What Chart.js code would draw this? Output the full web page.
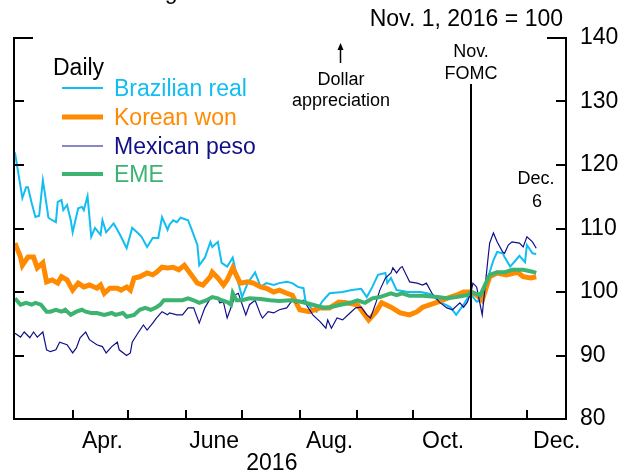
<!DOCTYPE html>
<html>
<head>
<meta charset="utf-8">
<script src="https://cdn.jsdelivr.net/npm/chart.js@4.4.1/dist/chart.umd.min.js"></script>
<style>
  html, body { margin: 0; padding: 0; background: #fff; }
  #wrap { width: 632px; height: 474px; }
</style>
</head>
<body>
<div id="wrap"><canvas id="fx" width="632" height="474"></canvas></div>
<script>
// ================= DATA =================
// x = day of year 2016 (Mar. 1 = 60, Nov. 1 = 305), y = index, Nov. 1, 2016 = 100
const brlDays = [60,64,66,67,69,71,73,75,76,78,80,82,83,85,86,88,90,91,94,96,97,99,101,103,106,107,109,113,115,117,120,123,126,128,131,134,137,139,142,143,145,147,149,153,155,158,159,162,165,166,169,171,174,177,180,182,185,189,192,195,199,202,206,209,212,215,216,219,222,225,229,236,241,246,249,252,255,259,260,262,265,271,278,283,288,294,297,301,305,306,308,311,315,317,319,322,323,326,329,331,334,335,338,340];
const brlVals = [122.0,114.8,116.5,116.5,114.0,111.8,112.0,117.6,115.7,111.7,111.3,111.0,114.2,114.5,112.9,113.7,111.3,109.4,113.2,113.4,112.9,115.1,108.7,110.1,109.0,111.3,109.4,110.8,109.8,108.7,106.9,110.1,109.3,108.7,107.1,108.5,108.5,111.8,109.8,110.6,111.3,111.0,111.7,111.3,109.8,107.4,104.2,105.4,107.9,107.1,107.9,104.6,104.0,105.4,101.4,99.2,101.4,103.1,100.8,101.4,101.1,101.4,101.6,101.4,100.8,100.6,98.7,97.5,96.9,98.5,99.8,100.0,100.3,100.5,99.2,100.8,102.7,103.0,101.4,102.2,100.3,100.0,100.0,99.7,98.5,97.6,96.4,98.0,100.0,99.2,98.5,98.7,103.1,105.0,106.3,106.1,105.5,104.0,105.0,105.7,104.7,107.4,106.1,106.0];

const krwDays = [60,63,64,67,70,72,75,77,80,83,85,88,91,94,97,100,104,106,108,111,115,117,120,122,124,127,131,134,136,139,142,145,148,151,154,158,161,165,166,169,172,174,177,181,185,188,192,195,199,202,206,209,213,218,224,229,234,238,244,250,254,257,262,267,272,276,279,287,292,297,301,305,308,311,315,319,324,330,333,337,340];
const krwVals = [107.7,105.5,104.2,105.5,105.5,103.8,104.6,101.6,101.9,101.4,102.4,101.9,100.3,101.4,100.8,101.1,100.6,101.1,99.8,100.6,100.6,100.3,100.8,100.3,102.2,102.4,103.0,102.7,103.1,103.9,103.8,103.9,103.5,104.2,103.0,101.4,101.1,102.4,103.1,102.2,101.1,101.9,103.8,101.4,101.6,101.4,100.8,100.6,100.0,100.3,99.8,99.5,97.2,96.9,97.5,97.5,98.4,98.3,98.0,95.6,96.9,98.3,97.6,96.7,96.4,96.9,97.6,98.4,99.0,99.5,100.0,100.0,99.5,98.7,102.4,103.0,102.7,103.1,102.4,102.2,102.4];

const mxnDays = [60,63,65,68,70,72,75,77,79,82,84,88,91,93,95,98,100,104,107,109,112,115,116,120,122,123,126,129,131,134,136,139,142,143,147,150,153,156,159,162,165,169,170,172,174,177,178,180,184,186,189,192,193,196,199,202,206,209,211,215,220,224,227,228,230,233,236,240,243,246,249,251,254,256,259,262,263,265,267,268,271,272,276,279,281,284,288,292,295,299,301,303,305,306,308,311,314,315,317,319,322,323,325,327,331,333,335,338,340];
const mxnVals = [93.5,92.9,93.7,92.8,93.7,92.9,93.7,90.9,90.6,90.9,92.1,91.7,90.4,91.2,92.8,93.7,92.5,91.7,91.4,90.4,91.4,92.1,90.9,90.0,90.4,92.1,93.5,94.8,94.0,95.1,95.9,96.9,96.4,96.7,96.4,96.4,97.5,97.5,95.1,97.5,99.0,99.0,98.3,98.4,95.9,98.3,99.5,99.8,96.4,98.0,98.7,96.4,95.9,96.9,96.7,97.2,97.5,98.7,98.3,98.7,96.4,95.3,94.3,95.6,94.3,95.9,95.6,96.7,97.5,97.6,96.4,95.9,98.4,100.3,102.2,103.0,103.8,103.0,103.8,104.0,102.2,101.6,101.4,101.1,101.4,99.8,98.4,97.5,97.2,98.3,97.6,98.4,100.0,101.4,100.8,96.4,105.0,107.7,109.3,107.9,106.3,106.1,107.4,107.9,107.7,107.1,108.7,107.9,106.9];

const emeDays = [60,63,66,69,71,74,77,79,82,85,87,90,93,96,98,101,104,108,112,114,118,120,124,127,130,133,136,138,140,145,150,153,156,159,163,166,169,171,174,176,177,179,182,186,192,197,202,208,213,220,226,229,235,240,244,248,252,256,262,265,268,272,279,287,292,297,303,305,310,312,315,319,323,327,333,338,340];
const emeVals = [99.0,98.0,98.3,98.0,98.3,98.0,96.9,96.9,97.2,96.9,97.2,96.4,96.9,97.2,96.9,96.7,96.7,96.4,96.7,96.4,96.7,96.1,96.4,97.2,97.5,97.2,97.6,98.0,98.7,98.7,98.7,99.0,98.7,98.3,98.7,99.2,99.0,98.7,98.4,98.0,99.8,98.7,98.7,99.0,98.9,98.7,98.6,98.7,98.5,98.0,97.5,97.6,98.0,98.3,98.7,98.3,99.0,99.2,99.8,99.5,99.8,99.4,99.4,99.2,99.0,99.2,99.5,100.0,99.5,100.8,102.7,103.1,103.1,103.5,103.5,103.2,103.0];

const seriesNames = ["Brazilian real", "Korean won", "Mexican peso", "EME"];
const yTicks = [80, 90, 100, 110, 120, 130, 140];
const monthStarts = [91, 121, 152, 182, 213, 244, 274, 305, 335];
const monthLabels = ["Apr.", "June", "Aug.", "Oct.", "Dec."];
const monthLabelDays = [107, 167, 229, 290, 351];
const yearLabel = "2016";
const yearLabelDay = 198;
const fomcDay = 305;

// ================= STYLE =================
const FONT = "'Liberation Sans', Arial, Helvetica, sans-serif";
const colors = ["#12bdf2", "#ff8a00", "#10108a", "#3cb371"];
const widths = [2, 5, 1.2, 4];

function pts(days, vals) {
  return days.map((d, i) => ({ x: d, y: vals[i] }));
}

const seriesData = [pts(brlDays, brlVals), pts(krwDays, krwVals), pts(mxnDays, mxnVals), pts(emeDays, emeVals)];
// EME on top, real at the bottom
const drawOrder = [3, 2, 1, 0];

// ================= FRAME, LABELS, LEGEND =================
const decorations = {
  id: 'decorations',
  afterDatasetsDraw(chart) {
    const { ctx, chartArea: a, scales: { x, y } } = chart;
    ctx.save();
    ctx.strokeStyle = '#000';
    ctx.lineWidth = 2;
    ctx.lineCap = 'butt';

    // open frame with short caps at the top
    ctx.beginPath();
    ctx.moveTo(a.left + 19, a.top);
    ctx.lineTo(a.left, a.top);
    ctx.lineTo(a.left, a.bottom);
    ctx.lineTo(a.right, a.bottom);
    ctx.lineTo(a.right, a.top);
    ctx.lineTo(a.right - 19, a.top);
    // inward ticks
    yTicks.slice(1, -1).forEach(v => {
      const py = Math.round(y.getPixelForValue(v));
      ctx.moveTo(a.left, py); ctx.lineTo(a.left + 10, py);
      ctx.moveTo(a.right, py); ctx.lineTo(a.right - 10, py);
    });
    monthStarts.forEach(d => {
      const px = Math.round(x.getPixelForValue(d));
      ctx.moveTo(px, a.bottom); ctx.lineTo(px, a.bottom - 9);
    });
    ctx.stroke();

    // FOMC marker
    const fx = Math.round(x.getPixelForValue(fomcDay));
    ctx.beginPath();
    ctx.moveTo(fx, 84);
    ctx.lineTo(fx, a.bottom);
    ctx.stroke();

    ctx.fillStyle = '#000';
    ctx.textBaseline = 'alphabetic';

    // month labels
    ctx.font = '23px ' + FONT;
    ctx.textAlign = 'center';
    monthLabels.forEach((m, i) => {
      ctx.fillText(m, x.getPixelForValue(monthLabelDays[i]), 448);
    });
    ctx.fillText(yearLabel, x.getPixelForValue(yearLabelDay), 470);

    // headers
    ctx.textAlign = 'left';
    ctx.fillText('Exchange rates', 88, -1);
    ctx.textAlign = 'right';
    ctx.fillText('Nov. 1, 2016 = 100', 563, 26);

    // legend
    ctx.textAlign = 'left';
    ctx.fillText('Daily', 53, 75);
    const rows = [88, 117, 146, 174];
    seriesNames.forEach((name, i) => {
      ctx.strokeStyle = colors[i];
      ctx.lineWidth = widths[i];
      ctx.beginPath();
      ctx.moveTo(62, rows[i]);
      ctx.lineTo(103, rows[i]);
      ctx.stroke();
      ctx.fillStyle = colors[i];
      ctx.fillText(name, 114, rows[i] + 8);
    });

    // notes
    ctx.fillStyle = '#000';
    ctx.strokeStyle = '#000';
    ctx.font = '18px ' + FONT;
    ctx.textAlign = 'center';
    ctx.fillText('Dollar', 341, 85);
    ctx.fillText('appreciation', 341, 106);
    ctx.fillText('Nov.', fx, 57);
    ctx.fillText('FOMC', fx, 79);
    ctx.fillText('Dec.', 536, 184);
    ctx.fillText('6', 537, 207);

    // arrow
    ctx.lineWidth = 1.5;
    ctx.beginPath();
    ctx.moveTo(340.5, 63);
    ctx.lineTo(340.5, 48);
    ctx.stroke();
    ctx.beginPath();
    ctx.moveTo(340.5, 43);
    ctx.lineTo(337.5, 50);
    ctx.lineTo(343.5, 50);
    ctx.closePath();
    ctx.fill();

    ctx.restore();
  }
};

// ================= CHART =================
const datasets = seriesNames.map((name, i) => ({
  label: name,
  data: seriesData[i],
  borderColor: colors[i],
  borderWidth: widths[i],
  pointRadius: 0,
  tension: 0,
  fill: false,
  order: drawOrder[i]
}));

new Chart(document.getElementById('fx').getContext('2d'), {
  type: 'line',
  data: { datasets },
  options: {
    responsive: false,
    animation: false,
    devicePixelRatio: 1,
    layout: { padding: { left: 14, top: 38, bottom: 55, right: 0 } },
    plugins: { legend: { display: false }, tooltip: { enabled: false } },
    scales: {
      x: {
        type: 'linear',
        min: 59.5,
        max: 356,
        display: false
      },
      y: {
        position: 'right',
        min: 80,
        max: 140,
        grid: { display: false, drawTicks: false },
        border: { display: false },
        ticks: {
          stepSize: 10,
          padding: 14,
          color: '#000',
          font: { family: FONT, size: 23 }
        },
        afterFit(scale) { scale.width = 66; }
      }
    }
  },
  plugins: [decorations]
});
</script>
</body>
</html>
